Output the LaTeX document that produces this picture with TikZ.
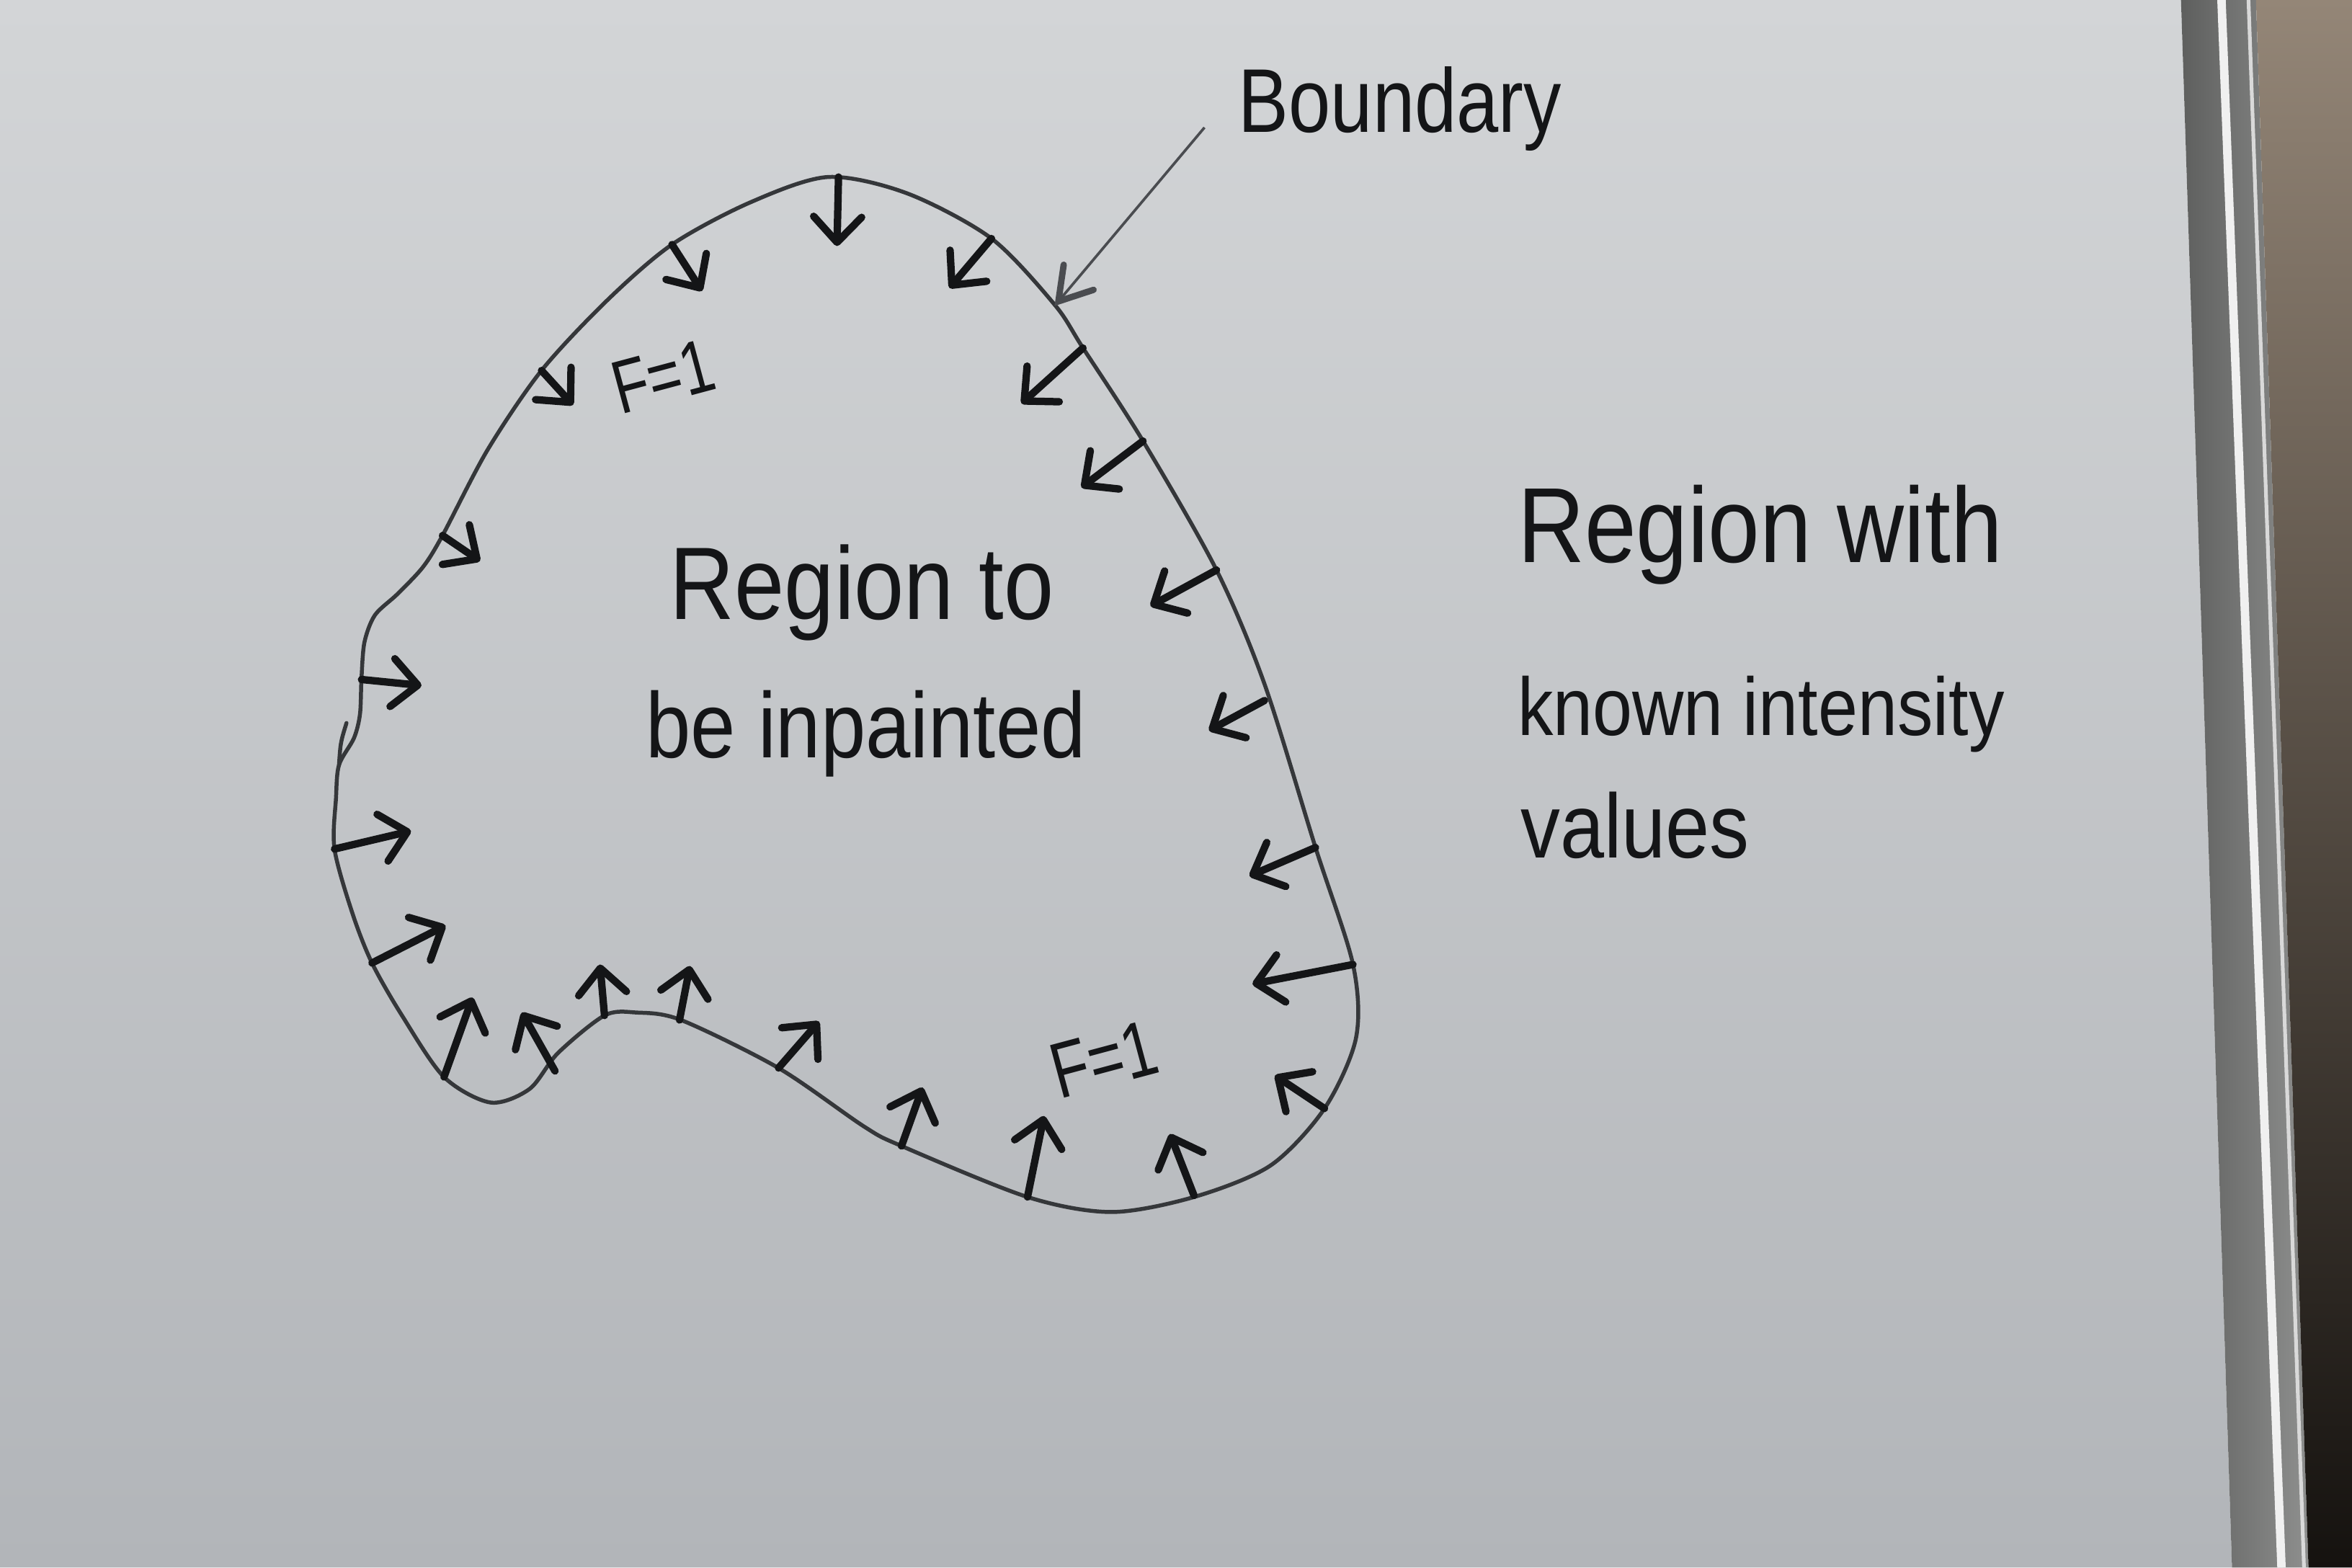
\documentclass[tikz,border=0pt]{standalone}
\usepackage{fontspec}
\setmainfont{Liberation Sans}
\usepackage{graphicx}
\usetikzlibrary{arrows.meta}
\definecolor{boardtop}{HTML}{D3D5D7}
\definecolor{boardbot}{HTML}{B2B5B9}
\definecolor{ink}{HTML}{141517}
\definecolor{pen}{HTML}{35373A}
\definecolor{thinpen}{HTML}{4A4C50}
\definecolor{framedark}{HTML}{5E5F5E}
\definecolor{framelight}{HTML}{8E8F8E}
\definecolor{bgtop}{HTML}{948677}
\definecolor{bgbot}{HTML}{15120F}
\newcommand{\hwtxt}[3]{\scalebox{1}[#1]{\fontsize{#2}{#2}\selectfont #3}}
\tikzset{
  bline/.style={draw=pen, line width=0.75pt, line cap=round, line join=round},
  normalarrow/.style={draw=ink, line width=1.4pt, line cap=round,
    -{Straight Barb[length=1.7mm,width=3.2mm,line cap=round,line join=round]}},
  pointer/.style={draw=thinpen, line width=0.5pt,
    -{Straight Barb[length=2.1mm,width=2.6mm,line width=1.2pt,line cap=round]}},
  hw/.style={inner sep=0pt, anchor=base west, text=ink},
  flabel/.style={inner sep=0pt, text=ink, rotate=15},
}
\begin{document}
\begin{tikzpicture}[x=0.01cm,y=-0.01cm]
\useasboundingbox (0,0) rectangle (1568,1045);
% whiteboard
\shade[top color=boardtop, bottom color=boardbot]
  (0,0) -- (1454,0) -- (1488,1045) -- (0,1045) -- cycle;
% frame
\shade[left color=framedark, right color=framelight]
  (1454,0) -- (1504,0) -- (1539,1045) -- (1488,1045) -- cycle;
\draw[line width=1.6pt, white!88!gray] (1481,0) -- (1521,1045);
\draw[line width=0.7pt, white!70!gray] (1499,0) -- (1536,1045);
% background beyond the frame
\shade[top color=bgtop, bottom color=bgbot]
  (1504,0) -- (1568,0) -- (1568,1045) -- (1539,1045) -- cycle;

% boundary curve
\draw[bline] plot[smooth cycle, tension=0.5] coordinates {
  (552,118) (605,129) (661,159) (703,203) (722,232) (762,294) (811,380)
  (843,456) (877,565) (902,643) (904,692) (883,739) (847,777) (796,798)
  (741,808) (685,798) (601,764) (576,751) (519,712) (454,680) (424,675)
  (403,677) (372,702) (353,726) (327,735) (296,718) (268,677) (248,642)
  (235,609) (223,566) (224,532) (226,510) (236,492) (240,476) (241,452)
  (243,428) (250,410) (265,396) (282,378) (295,357) (325,300) (361,247)
  (405,200) (448,163) (500,135)};
\draw[bline] (226,510) .. controls (227,495) .. (231,482);

% inward arrows
\foreach \ax/\ay/\bx/\by in {
  559/118/558/164, 448/163/468/194, 361/247/382/270, 295/357/320/374,
  241/453/281/457, 223/566/274/554, 248/642/297/617, 296/718/315/665,
  370/714/348/675, 403/677/400/643, 453/680/460/644, 519/712/546/681,
  601/764/615/725, 685/798/696/744, 796/797/780/756, 883/739/850/717,
  902/643/835/656, 877/565/833/584, 843/467/806/487, 811/380/767/404,
  762/294/721/325, 722/232/681/269, 661/159/633/192}
  \draw[normalarrow] (\ax,\ay) -- (\bx,\by);

% labels
\node[hw] (bnd) at (825,88) {\hwtxt{1.2}{14.3pt}{Boundary}};
\coordinate (bstart) at (803,85);
\coordinate (btip) at (703,204);
\draw[pointer] (bstart) -- (btip);

\node[hw] (reg1) at (446,413) {\hwtxt{1.15}{17pt}{Region to}};
\node[hw] (reg2) at (430,505) {\hwtxt{1.15}{15.3pt}{be inpainted}};

\node[hw] (kn1) at (1011,375) {\hwtxt{1.15}{17.6pt}{Region with}};
\node[hw] (kn2) at (1011,490) {\hwtxt{1.15}{13.5pt}{known intensity}};
\node[hw] (kn3) at (1013,572) {\hwtxt{1.15}{15pt}{values}};

\node[flabel] (f1) at (442,251) {\hwtxt{1.3}{11pt}{F=1}};
\node[flabel] (f2) at (736,706) {\hwtxt{1.3}{11.5pt}{F=1}};
\end{tikzpicture}
\end{document}
